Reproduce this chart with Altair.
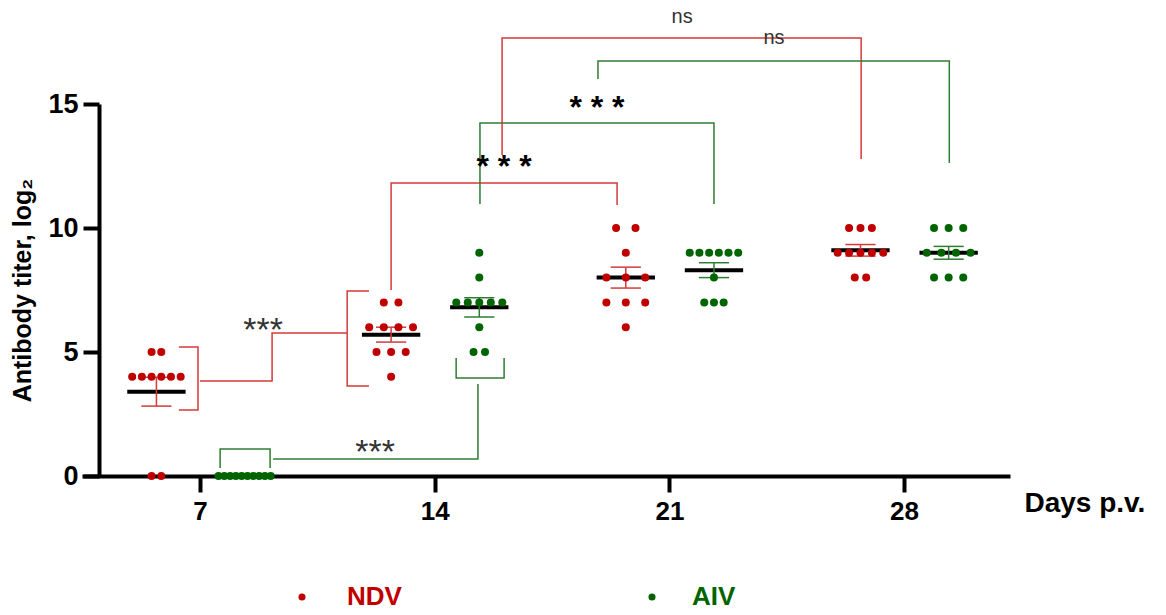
import altair as alt
import pandas as pd
import numpy as np
from collections import Counter

# ---------------- data ----------------
days = [7, 14, 21, 28]
series = ["NDV", "AIV"]

ndv_d7 = [5, 5, 4, 4, 4, 4, 4, 4, 0, 0]
ndv_d14 = [7, 7, 6, 6, 6, 6, 5, 5, 5, 4]
ndv_d21 = [10, 10, 9, 8, 8, 8, 7, 7, 7, 6]
ndv_d28 = [10, 10, 10, 9, 9, 9, 9, 9, 8, 8]

aiv_d7 = [0, 0, 0, 0, 0, 0, 0, 0, 0, 0]
aiv_d14 = [9, 8, 7, 7, 7, 7, 7, 6, 5, 5]
aiv_d21 = [9, 9, 9, 9, 9, 9, 8, 7, 7, 7]
aiv_d28 = [10, 10, 10, 9, 9, 9, 9, 8, 8, 8]

tick_values_y = [0, 5, 10, 15]

# significance annotations: label, x (day units), y (titer units)
sig_tight = [("***", 8.88, 6.21), ("***", 12.22, 1.29)]
sig_spaced = [("* * *", 16.07, 12.74), ("* * *", 18.84, 15.12)]
sig_ns = [("ns", 21.38, 18.45), ("ns", 24.12, 17.62)]

# bracket polylines (series, list of (day, titer) points)
brackets = [
    ("NDV", [(6.37, 5.20), (6.94, 5.20), (6.94, 2.66), (6.37, 2.66)]),
    ("NDV", [(7.0, 3.83), (9.15, 3.83), (9.15, 5.77), (11.39, 5.77)]),
    ("NDV", [(12.04, 7.46), (11.39, 7.46), (11.39, 3.63), (12.04, 3.63)]),
    ("AIV", [(7.60, 0.32), (7.60, 1.09), (9.09, 1.09), (9.09, 0.32)]),
    ("AIV", [(9.18, 0.69), (15.29, 0.69), (15.29, 3.71)]),
    ("AIV", [(14.64, 4.76), (14.64, 3.95), (16.07, 3.95), (16.07, 4.76)]),
    ("NDV", [(12.70, 7.50), (12.70, 11.81), (19.44, 11.81), (19.44, 10.93)]),
    ("AIV", [(15.35, 10.97), (15.35, 14.23), (22.33, 14.23), (22.33, 10.97)]),
    ("NDV", [(16.01, 12.94), (16.01, 17.66), (26.72, 17.66), (26.72, 12.78)]),
    ("AIV", [(18.87, 16.01), (18.87, 16.73), (29.35, 16.73), (29.35, 12.62)]),
]

# ---------------- styling / layout ----------------
FONT = "Liberation Sans"
dot_col = {"NDV": "#C00000", "AIV": "#006400"}
line_col = {"NDV": "#D43A3A", "AIV": "#2E7D32"}
PX_PER_DAY = 33.52
group_offset = {"NDV": -1.30, "AIV": 1.33}
spacing_px = {("NDV", 7): 9.7, ("AIV", 7): 5.8, ("NDV", 14): 14.6, ("AIV", 14): 11.5,
              ("NDV", 21): 19.4, ("AIV", 21): 9.7, ("NDV", 28): 11.4, ("AIV", 28): 14.6}
CAP_HALF = 0.45
MEAN_HALF = 0.87

values = {
    ("NDV", 7): ndv_d7, ("NDV", 14): ndv_d14, ("NDV", 21): ndv_d21, ("NDV", 28): ndv_d28,
    ("AIV", 7): aiv_d7, ("AIV", 14): aiv_d14, ("AIV", 21): aiv_d21, ("AIV", 28): aiv_d28,
}

pts, summ = [], []
for (s, d), vals in values.items():
    c = d + group_offset[s]
    sp = spacing_px[(s, d)] / PX_PER_DAY
    for v, n in Counter(vals).items():
        for i in range(n):
            pts.append({"series": s, "col": dot_col[s], "x": c + (i - (n - 1) / 2) * sp, "y": v})
    arr = np.array(vals, dtype=float)
    m = arr.mean()
    sem = arr.std(ddof=1) / np.sqrt(len(arr))
    summ.append({"series": s, "lc": line_col[s], "x": c, "y": m, "lo": m - sem, "hi": m + sem,
                 "cl": c - CAP_HALF, "cr": c + CAP_HALF, "ml": c - MEAN_HALF, "mr": c + MEAN_HALF})
pts = pd.DataFrame(pts)
summ = pd.DataFrame(summ)

br_rows = []
for k, (s, path) in enumerate(brackets):
    for j, (x, y) in enumerate(path):
        br_rows.append({"path": k, "idx": j, "x": x, "y": y, "lc": line_col[s]})
br = pd.DataFrame(br_rows)

def txt_df(lst):
    return pd.DataFrame([{"label": a, "x": b, "y": c} for a, b, c in lst])

xscale = alt.Scale(domain=[3.48, 31.16], nice=False, zero=False)
yscale = alt.Scale(domain=[0, 15], nice=False, zero=False)

xaxis = alt.Axis(values=days, title="Days p.v.", grid=False, domainColor="black", domainWidth=4,
                 tickColor="black", tickWidth=4, tickSize=16, labelFont=FONT, labelFontWeight="bold",
                 labelFontSize=26, labelColor="black", labelPadding=6, labelFlush=False,
                 titleFont=FONT, titleFontSize=28, titleFontWeight="bold", titleColor="black",
                 titleX=942, titleY=35, titleAlign="left", titleBaseline="alphabetic", titleAngle=0)
yaxis = alt.Axis(values=tick_values_y, title="Antibody titer, log₂", offset=-17, grid=False,
                 domainColor="black", domainWidth=4, tickColor="black", tickWidth=4, tickSize=16,
                 labelFont=FONT, labelFontWeight="bold", labelFontSize=27, labelColor="black",
                 labelPadding=5, labelFlush=False,
                 titleFont=FONT, titleFontSize=25, titleFontWeight="bold", titleColor="black",
                 titleX=-77, titleY=186, titleAngle=270, titleAlign="center", titleBaseline="middle")

def X(f):
    return alt.X(f, type="quantitative", scale=xscale, axis=xaxis)

def Y(f):
    return alt.Y(f, type="quantitative", scale=yscale, axis=yaxis)

lines = alt.Chart(br).mark_line(strokeWidth=1.5).encode(
    x=X("x"), y=Y("y"), detail="path:N", order="idx:Q", color=alt.Color("lc:N", scale=None))

mean_rule = alt.Chart(summ).mark_rule(color="black", strokeWidth=4).encode(
    x=X("ml"), x2="mr", y=Y("y"))
err_v = alt.Chart(summ).mark_rule(strokeWidth=1.5).encode(
    x=X("x"), y=Y("lo"), y2="hi", color=alt.Color("lc:N", scale=None))
cap_lo = alt.Chart(summ).mark_rule(strokeWidth=1.5).encode(
    x=X("cl"), x2="cr", y=Y("lo"), color=alt.Color("lc:N", scale=None))
cap_hi = alt.Chart(summ).mark_rule(strokeWidth=1.5).encode(
    x=X("cl"), x2="cr", y=Y("hi"), color=alt.Color("lc:N", scale=None))

dots = alt.Chart(pts).mark_circle(size=64, opacity=1).encode(
    x=X("x"), y=Y("y"), color=alt.Color("col:N", scale=None))

t_tight = alt.Chart(txt_df(sig_tight)).mark_text(font=FONT, fontSize=34, color="#333333",
                                                  baseline="alphabetic", dy=19).encode(
    x=X("x"), y=Y("y"), text="label:N")
t_spaced = alt.Chart(txt_df(sig_spaced)).mark_text(font=FONT, fontSize=32, fontWeight="bold",
                                                    color="black", baseline="alphabetic", dy=17).encode(
    x=X("x"), y=Y("y"), text="label:N")
t_ns = alt.Chart(txt_df(sig_ns)).mark_text(font=FONT, fontSize=20, color="#333333",
                                            baseline="alphabetic", dy=5).encode(
    x=X("x"), y=Y("y"), text="label:N")

# manual legend (below the plot)
legend_layers = []
for s, dx, tx in zip(series, [220, 570], [265, 610]):
    ldf = pd.DataFrame({"label": [s]})
    legend_layers.append(alt.Chart(ldf).mark_circle(size=50, opacity=1, color=dot_col[s]).encode(
        x=alt.value(dx), y=alt.value(493)))
    legend_layers.append(alt.Chart(ldf).mark_text(font=FONT, fontSize=26, fontWeight="bold",
                                                  align="left", baseline="middle",
                                                  color=dot_col[s]).encode(
        x=alt.value(tx), y=alt.value(493), text="label:N"))

chart = alt.layer(lines, mean_rule, err_v, cap_lo, cap_hi, dots, t_tight, t_spaced, t_ns,
                  *legend_layers).properties(
    width=928, height=372,
    autosize=alt.AutoSizeParams(type="none"),
    padding={"left": 74, "top": 96, "right": 148, "bottom": 134},
).configure_view(strokeWidth=0)

chart.save("out.html", embed_options={"renderer": "svg", "actions": False})
